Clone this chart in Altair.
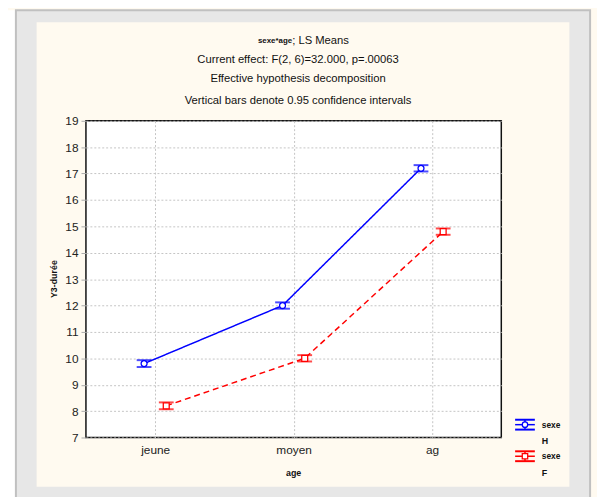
import altair as alt
import pandas as pd

ages = ["jeune", "moyen", "ag"]
series = ["H", "F"]
means_H = [9.8, 12.0, 17.2]
means_F = [8.2, 10.0, 14.8]
ci_H = [0.13, 0.12, 0.12]
ci_F = [0.13, 0.12, 0.12]
y_ticks = list(range(7, 20))
title_lines = [
    "Current effect: F(2, 6)=32.000, p=.00063",
    "Effective hypothesis decomposition",
    "Vertical bars denote 0.95 confidence intervals",
]
colors = ["#0000ff", "#ff0000"]
dodge = {"H": -0.08, "F": 0.08}

rows = []
for s, means, cis in [("H", means_H, ci_H), ("F", means_F, ci_F)]:
    for i, (a, m, c) in enumerate(zip(ages, means, cis)):
        rows.append({"sexe": s, "age": a, "pos": i + dodge[s], "mean": m,
                     "lo": m - c, "hi": m + c})
df = pd.DataFrame(rows)

W, H = 421, 321
FONT = "Liberation Sans"
GREY = "#e7e7e7"
CREAM = "#fffaf0"

xscale = alt.Scale(domain=[-0.5, 2.5], nice=False, zero=False)
xaxis = alt.Axis(values=[0, 1, 2],
                 labelExpr="['jeune','moyen','ag'][datum.value]",
                 title=None, ticks=False, labelPadding=7, domain=False,
                 grid=True, labelOverlap=False)
yscale = alt.Scale(domain=[7, 19], nice=False, zero=False)
yaxis = alt.Axis(values=y_ticks, title=None, tickSize=5, tickColor="#aaaaaa",
                 labelPadding=3, domain=False, grid=True, labelOverlap=False)


def X(f="pos:Q"):
    return alt.X(f, scale=xscale, axis=xaxis)


def Y(f):
    return alt.Y(f, scale=yscale, axis=yaxis)


color = alt.Color("sexe:N", scale=alt.Scale(domain=series, range=colors), legend=None)

one = pd.DataFrame({"k": [0]})


def band(x, x2, y, y2, fill):
    return alt.Chart(one).mark_rect(fill=fill).encode(
        x=alt.value(x), x2=alt.value(x2), y=alt.value(y), y2=alt.value(y2))


# background frame (grey band round a cream panel); page offset of view = (87, 119)
frame = [
    band(-80, -71, -112, 400, "white"),
    band(-71, -50, -112, 400, GREY),
    band(490, 511, -112, 400, GREY),
    band(-71, 511, -112, -100, GREY),
    band(-71, 511, 371, 400, GREY),
    alt.Chart(one).mark_rect(fill=GREY, fillOpacity=0, stroke="#c0c0c0", strokeWidth=2).encode(
        x=alt.value(-71), x2=alt.value(511), y=alt.value(-112), y2=alt.value(400)),
]

base = alt.Chart(df)
lines = base.mark_line(strokeWidth=1.5).encode(
    x=X(), y=Y("mean:Q"), color=color, detail="sexe:N",
    strokeDash=alt.StrokeDash("sexe:N", scale=alt.Scale(domain=series, range=[[1, 0], [6, 4]]),
                              legend=None))
bars = base.mark_rule(strokeWidth=1.5).encode(
    x=X(), y=Y("lo:Q"), y2="hi:Q", color=color)
cap_lo = base.mark_tick(orient="horizontal", size=15, thickness=2).encode(
    x=X(), y=Y("lo:Q"), color=color)
cap_hi = base.mark_tick(orient="horizontal", size=15, thickness=2).encode(
    x=X(), y=Y("hi:Q"), color=color)
points = base.mark_point(fill="white", fillOpacity=1, strokeWidth=1.3, size=36, opacity=1).encode(
    x=X(), y=Y("mean:Q"), color=color,
    shape=alt.Shape("sexe:N", scale=alt.Scale(domain=series, range=["circle", "square"]),
                    legend=None))

# titles
t1a = alt.Chart(one).mark_text(font=FONT, fontSize=8, fontWeight="bold", align="right",
                               baseline="middle", color="#111").encode(
    x=alt.value(209), y=alt.value(-81), text=alt.value("sexe*age"))
t1b = alt.Chart(one).mark_text(font=FONT, fontSize=11.4, align="left",
                               baseline="middle", color="#111").encode(
    x=alt.value(209), y=alt.value(-81), text=alt.value("; LS Means"))
tl = [alt.Chart(one).mark_text(font=FONT, fontSize=11.4, align="center", baseline="middle",
                               color="#111").encode(
    x=alt.value(215), y=alt.value(yy), text=alt.value(t))
      for t, yy in zip(title_lines, [-62, -42, -20])]
xt = alt.Chart(one).mark_text(font=FONT, fontSize=9, fontWeight="bold", align="center",
                              baseline="middle", color="#111").encode(
    x=alt.value(W / 2), y=alt.value(357), text=alt.value("age"))
yt = alt.Chart(one).mark_text(font=FONT, fontSize=9, fontWeight="bold", align="center",
                              baseline="middle", angle=270, color="#111").encode(
    x=alt.value(-32), y=alt.value(H / 2), text=alt.value("Y3-durée"))

# legend
leg = []
for s, c, cy in zip(series, colors, [308, 340]):
    cx = 445
    leg.append(alt.Chart(one).mark_rule(color=c, strokeWidth=2).encode(
        x=alt.value(cx - 10), x2=alt.value(cx + 10), y=alt.value(cy - 5)))
    leg.append(alt.Chart(one).mark_rule(color=c, strokeWidth=2).encode(
        x=alt.value(cx - 10), x2=alt.value(cx + 10), y=alt.value(cy + 5)))
    leg.append(alt.Chart(one).mark_rule(color=c, strokeWidth=1.5).encode(
        x=alt.value(cx - 10), x2=alt.value(cx + 10), y=alt.value(cy)))
    leg.append(alt.Chart(one).mark_rule(color=c, strokeWidth=1.5).encode(
        x=alt.value(cx), y=alt.value(cy - 5), y2=alt.value(cy + 5)))
    leg.append(alt.Chart(one).mark_point(color=c, fill="white", fillOpacity=1, size=30,
                                         strokeWidth=1.3, opacity=1,
                                         shape="circle" if s == "H" else "square").encode(
        x=alt.value(cx), y=alt.value(cy)))
    leg.append(alt.Chart(one).mark_text(font=FONT, fontSize=8.5, fontWeight="bold", align="left",
                                        baseline="middle", color="#111").encode(
        x=alt.value(cx + 17), y=alt.value(cy), text=alt.value("sexe")))
    leg.append(alt.Chart(one).mark_text(font=FONT, fontSize=9, fontWeight="bold", align="left",
                                        baseline="middle", color="#111").encode(
        x=alt.value(cx + 17), y=alt.value(cy + 17), text=alt.value(s)))

chart = alt.layer(*frame, lines, bars, cap_lo, cap_hi, points,
                  t1a, t1b, *tl, xt, yt, *leg).properties(
    width=W, height=H,
    autosize=alt.AutoSizeParams(type="none"),
    padding={"left": 79, "top": 111, "right": 97, "bottom": 57},
    background=CREAM,
).configure_view(stroke="#111", strokeWidth=1.5, fill="white").configure_axis(
    labelFont=FONT, labelFontSize=12, labelColor="#222",
    gridColor="#c4c4c4", gridDash=[2, 2], gridWidth=1,
)

chart.save("out.html", embed_options={"renderer": "svg", "actions": False})
